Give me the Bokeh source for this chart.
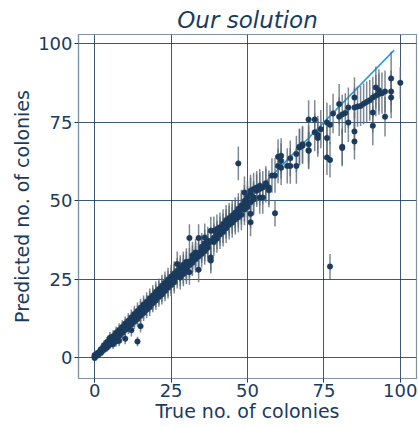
from bokeh.plotting import figure
from bokeh.models import ColumnDataSource, Range1d, FixedTicker
from bokeh.embed import file_html
from bokeh.resources import INLINE

title_text = "Our solution"
x_label = "True no. of colonies"
y_label = "Predicted no. of colonies"
x_ticks = [0, 25, 50, 75, 100]
y_ticks = [0, 25, 50, 75, 100]
ref_line_x = [0, 98]
ref_line_y = [0, 98]

true_count = [
    0, 0, 0, 0, 0,
    1, 1, 1, 1,
    2, 2, 2, 2,
    3, 3, 3, 3,
    4, 4, 4, 4, 4,
    5, 5, 5, 5, 5,
    6, 6, 6, 6, 6,
    7, 7, 7, 7, 7,
    8, 8, 8, 8, 8,
    9, 9, 9, 9,
    10, 10, 10, 10, 10,
    11, 11, 11, 11,
    12, 12, 12, 12, 12,
    13, 13, 13, 13,
    14, 14, 14, 14, 14,
    15, 15, 15, 15, 15,
    16, 16, 16, 16,
    17, 17, 17, 17,
    18, 18, 18, 18,
    19, 19, 19, 19,
    20, 20, 20, 20,
    21, 21, 21, 21,
    22, 22, 22, 22,
    23, 23, 23, 23,
    24, 24, 24, 24,
    25, 25, 25, 25,
    26, 26, 26, 26,
    27, 27, 27, 27,
    28, 28, 28, 28,
    29, 29, 29, 29,
    30, 30, 30, 30,
    31, 31, 31, 31,
    32, 32, 32,
    33, 33, 33,
    34, 34, 34, 34,
    35, 35, 35,
    36, 36, 36, 36,
    37, 37, 37,
    38, 38, 38, 38,
    39, 39, 39,
    40, 40, 40,
    41, 41, 41,
    42, 42, 42,
    43, 43, 43,
    44, 44, 44,
    45, 45, 45,
    46, 46, 46,
    47, 47, 47, 47,
    48, 48, 48,
    49, 49, 49, 49,
    50, 50, 50,
    51, 51, 51, 51, 51,
    52, 52, 52,
    53, 53,
    54, 54, 54,
    55, 55,
    56, 56,
    57, 57,
    58,
    59, 59,
    60, 60,
    61, 61, 61,
    63,
    64, 64,
    66, 66,
    67, 67,
    68, 68,
    70, 70, 70, 70,
    72, 72,
    73, 73,
    74,
    76, 76, 76,
    77, 77, 77,
    78,
    80, 80,
    81, 81, 81,
    82,
    83, 83,
    85, 85, 85, 85,
    86, 87, 88, 89, 90,
    91, 91, 91,
    92, 92,
    93, 93,
    94,
    95, 95,
    97, 97, 97,
    100,
]

pred_count = [
    0.1, 0.5, 0.3, -0.2, 0.8,
    1.2, 0.8, 1.5, 0.6,
    2.1, 1.7, 2.6, 1.4,
    3.2, 2.8, 3.9, 2.4,
    4.3, 3.6, 4.9, 3.1, 4.0,
    5.2, 4.6, 5.9, 4.1, 6.3,
    6.1, 5.5, 6.8, 5.0, 4.2,
    7.3, 6.5, 7.9, 6.0, 5.1,
    8.2, 7.4, 8.8, 6.9, 5.3,
    9.1, 8.3, 9.7, 7.8,
    10.2, 9.4, 10.8, 8.8, 6.0,
    11.1, 10.3, 11.7, 9.6,
    12.0, 11.2, 12.8, 10.5, 8.7,
    13.1, 12.1, 13.9, 11.4,
    14.0, 13.2, 14.8, 5.1, 12.3,
    15.2, 14.1, 15.9, 10.0, 13.3,
    16.1, 15.0, 16.9, 14.2,
    17.0, 16.1, 17.8, 15.2,
    18.1, 17.2, 18.9, 16.0,
    19.0, 18.0, 19.8, 17.3,
    20.1, 19.1, 20.9, 18.2,
    21.0, 20.0, 21.8, 19.3,
    22.1, 21.0, 22.9, 20.1,
    23.0, 22.1, 23.8, 21.2,
    24.1, 23.0, 24.9, 22.2,
    25.0, 24.0, 25.8, 23.1,
    26.1, 24.9, 26.8, 24.0,
    26.9, 25.8, 27.7, 29.8,
    27.8, 26.6, 28.5, 25.5,
    28.7, 27.5, 29.6, 26.6,
    29.6, 28.4, 30.5, 27.4,
    30.6, 29.4, 38.1, 27.2,
    31.5, 30.2, 32.6,
    32.4, 31.3, 33.5,
    33.3, 32.2, 38.1, 28.0,
    34.4, 33.0, 35.3,
    35.1, 33.9, 36.4, 38.3,
    36.1, 35.0, 37.3,
    37.0, 40.4, 31.9, 30.9,
    38.2, 40.4, 36.8,
    39.1, 41.0, 37.9,
    40.4, 41.5, 39.2,
    41.2, 42.6, 40.0,
    42.6, 43.8, 41.2,
    43.6, 42.3, 44.5,
    44.2, 43.0, 45.3,
    45.0, 44.0, 46.2,
    46.3, 44.7, 47.4, 61.9,
    47.4, 45.5, 48.5,
    48.4, 49.9, 52.6, 47.2,
    49.5, 51.1, 48.0,
    53.2, 45.8, 43.1, 49.5, 52.2,
    51.1, 53.7, 50.4,
    53.2, 54.2,
    53.7, 54.8, 51.0,
    54.2, 51.0,
    54.8, 55.6,
    54.2, 53.3,
    58.0,
    46.0, 58.0,
    61.1, 64.0,
    62.7, 60.5, 64.3,
    61.1,
    61.1, 63.5,
    61.1, 64.9,
    67.0, 67.2,
    67.5, 68.0,
    65.9, 68.0, 66.1, 75.9,
    71.8, 75.9,
    71.0, 70.0,
    72.8,
    70.0, 74.9, 63.8,
    74.2, 63.0, 29.0,
    77.8,
    80.8, 76.8,
    66.8, 67.2, 77.5,
    78.0,
    79.7, 74.9,
    82.9, 72.1, 68.9, 79.7,
    80.0, 80.2, 80.9, 81.5, 82.0,
    78.1, 73.9, 82.9,
    86.1, 83.5,
    85.2, 84.0,
    84.3,
    84.8, 76.8,
    89.0, 84.8, 82.9,
    87.6,
]

pred_err = [
    0.6, 0.8, 0.5, 0.7, 1.0,
    1.0, 0.9, 1.1, 0.8,
    1.2, 1.1, 1.3, 1.0,
    1.3, 1.2, 1.5, 1.2,
    1.5, 1.4, 1.6, 1.3, 1.5,
    1.6, 1.5, 1.7, 1.4, 1.8,
    1.8, 1.7, 1.9, 1.6, 1.5,
    1.9, 1.8, 2.0, 1.7, 1.6,
    2.0, 1.9, 2.1, 1.8, 1.7,
    2.1, 2.0, 2.2, 1.9,
    2.2, 2.1, 2.3, 2.0, 1.8,
    2.3, 2.2, 2.4, 2.1,
    2.4, 2.3, 2.5, 2.2, 2.0,
    2.5, 2.4, 2.6, 2.3,
    2.6, 2.5, 2.7, 1.5, 2.4,
    2.7, 2.6, 2.8, 2.0, 2.5,
    2.8, 2.7, 2.9, 2.6,
    2.9, 2.8, 3.0, 2.7,
    3.0, 2.9, 3.1, 2.8,
    3.1, 3.0, 3.2, 2.9,
    3.2, 3.1, 3.3, 3.0,
    3.3, 3.2, 3.4, 3.1,
    3.4, 3.3, 3.5, 3.2,
    3.5, 3.4, 3.6, 3.3,
    3.6, 3.5, 3.7, 3.4,
    3.7, 3.6, 3.8, 3.5,
    3.8, 3.7, 3.9, 3.6,
    3.9, 3.8, 4.0, 4.0,
    4.0, 3.9, 4.1, 3.8,
    4.1, 4.0, 4.2, 3.9,
    4.2, 4.1, 4.3, 4.0,
    4.2, 4.2, 4.4, 4.0,
    4.2, 4.2, 4.3,
    4.3, 4.2, 4.3,
    4.3, 4.3, 4.4, 4.0,
    4.3, 4.3, 4.4,
    4.4, 4.3, 4.4, 4.4,
    4.4, 4.4, 4.4,
    4.4, 4.5, 4.2, 4.1,
    4.5, 4.6, 4.4,
    4.6, 4.6, 4.5,
    4.6, 4.7, 4.6,
    4.7, 4.7, 4.6,
    4.7, 4.8, 4.7,
    4.8, 4.7, 4.8,
    4.8, 4.8, 4.9,
    4.9, 4.8, 4.9,
    4.9, 4.8, 5.0, 5.4,
    5.0, 4.9, 5.0,
    5.0, 5.1, 5.1, 5.0,
    5.1, 5.1, 5.0,
    5.1, 4.6, 4.4, 5.0, 5.1,
    5.2, 5.2, 5.1,
    5.2, 5.3,
    5.3, 5.3, 5.2,
    5.3, 5.2,
    5.4, 5.4,
    5.4, 5.4,
    5.5,
    4.2, 5.5,
    5.5, 5.6,
    5.6, 5.5, 5.6,
    5.6,
    5.7, 5.7,
    5.7, 5.8,
    5.8, 5.8,
    5.9, 5.9,
    5.9, 5.9, 5.8, 6.1,
    6.0, 6.1,
    6.0, 6.0,
    6.1,
    6.1, 6.3, 5.6,
    6.2, 5.6, 4.0,
    6.3,
    6.4, 6.2,
    5.8, 5.8, 6.3,
    6.3,
    6.4, 6.2,
    6.5, 6.0, 5.8, 6.4,
    6.4, 6.4, 6.5, 6.5, 6.5,
    6.4, 6.2, 6.6,
    6.7, 6.6,
    6.7, 6.6,
    6.6,
    6.7, 6.3,
    8.5, 6.7, 6.6,
    5.0,
]

n = min(len(true_count), len(pred_count), len(pred_err))
xs = true_count[:n]
ys = pred_count[:n]
es = pred_err[:n]
src = ColumnDataSource(dict(
    x=xs, y=ys,
    lo=[a - b for a, b in zip(ys, es)],
    hi=[a + b for a, b in zip(ys, es)],
))

NAVY = "#1a3b5d"
SPINE = "#7f92a7"

p = figure(width=418, height=427,
           x_range=Range1d(-5.3, 105.3), y_range=Range1d(-6.7, 103),
           output_backend="svg", toolbar_location=None,
           min_border_left=78, min_border_right=2,
           min_border_top=34, min_border_bottom=49)

p.title.text = title_text
p.title.text_font = "DejaVu Sans"
p.title.text_font_style = "italic"
p.title.text_font_size = "23px"
p.title.text_color = NAVY
p.title.align = "center"
p.title.standoff = 3
p.title.offset = 0

for ax, lab, tk in ((p.xaxis, x_label, x_ticks), (p.yaxis, y_label, y_ticks)):
    ax.ticker = FixedTicker(ticks=tk)
    ax.axis_label = lab
    ax.axis_label_text_font = "DejaVu Sans"
    ax.axis_label_text_font_style = "normal"
    ax.axis_label_text_font_size = "19px"
    ax.axis_label_text_color = NAVY
    ax.major_label_text_font = "DejaVu Sans"
    ax.major_label_text_font_size = "18px"
    ax.major_label_text_color = NAVY
    ax.axis_line_color = SPINE
    ax.axis_line_width = 1.2
    ax.major_tick_line_color = NAVY
    ax.major_tick_in = 0
    ax.major_tick_out = 4
    ax.minor_tick_line_color = None
    ax.major_label_standoff = 2
    ax.axis_label_standoff = 2

p.xaxis.major_label_standoff = 1
p.xaxis.axis_label_standoff = 0

p.outline_line_color = SPINE
p.outline_line_width = 1.2
p.grid.grid_line_color = NAVY
p.grid.grid_line_width = 1
p.grid.grid_line_alpha = 0.85
p.background_fill_color = "white"
p.border_fill_color = "white"

p.line(ref_line_x, ref_line_y, line_color="#2b9fd6", line_width=1.6)
p.segment(x0="x", y0="lo", x1="x", y1="hi", source=src,
          line_color="#5d6b7b", line_width=1.5, line_alpha=0.8)
p.scatter(x="x", y="y", source=src, size=5.5,
          fill_color=NAVY, line_color=NAVY, line_width=0.5)

open("out.html", "w").write(file_html(p, INLINE))
